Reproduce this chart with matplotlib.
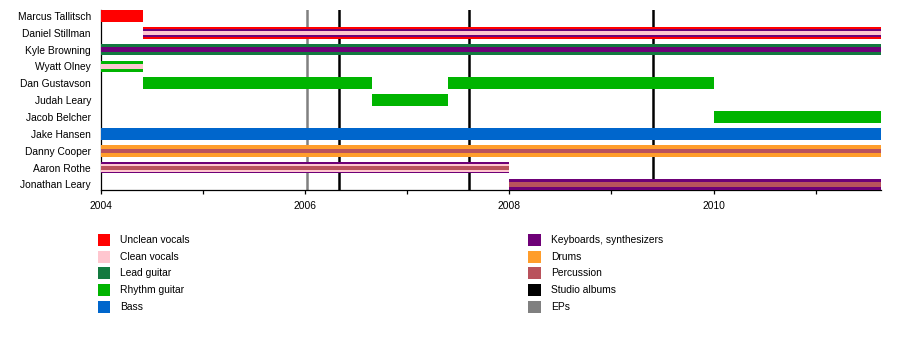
import matplotlib
matplotlib.use("Agg")
import matplotlib.pyplot as plt
from matplotlib.patches import Rectangle

plt.rcParams['font.family'] = ['Liberation Sans', 'DejaVu Sans']

# band members, top to bottom
members = ["Marcus Tallitsch", "Daniel Stillman", "Kyle Browning", "Wyatt Olney",
           "Dan Gustavson", "Judah Leary", "Jacob Belcher", "Jake Hansen",
           "Danny Cooper", "Aaron Rothe", "Jonathan Leary"]

# roles and their colours (legend order)
roles = ["Unclean vocals", "Clean vocals", "Lead guitar", "Rhythm guitar", "Bass",
         "Keyboards, synthesizers", "Drums", "Percussion", "Studio albums", "EPs"]
role_colors = ["#ff0000", "#ffc6cf", "#137a3f", "#00b400", "#0066cc",
               "#6e0077", "#ff9d2b", "#b9525c", "#000000", "#808080"]
color_of = dict(zip(roles, role_colors))

start_year = 2004.0
end_year = 2011.64

# stints: member, from, to, roles (outer bar first)
stint_member = ["Marcus Tallitsch", "Daniel Stillman", "Kyle Browning", "Wyatt Olney",
                "Dan Gustavson", "Dan Gustavson", "Judah Leary", "Jacob Belcher",
                "Jake Hansen", "Danny Cooper", "Aaron Rothe", "Jonathan Leary"]
stint_start = [2004.0, 2004.41, 2004.0, 2004.0, 2004.41, 2007.40, 2006.66, 2010.0,
               2004.0, 2004.0, 2004.0, 2008.0]
stint_end = [2004.41, end_year, end_year, 2004.41, 2006.66, 2010.0, 2007.40, end_year,
             end_year, end_year, 2008.0, end_year]
stint_roles = [["Unclean vocals"],
               ["Unclean vocals", "Keyboards, synthesizers", "Clean vocals"],
               ["Lead guitar", "Keyboards, synthesizers"],
               ["Rhythm guitar", "Clean vocals"],
               ["Rhythm guitar"], ["Rhythm guitar"], ["Rhythm guitar"], ["Rhythm guitar"],
               ["Bass"],
               ["Drums", "Percussion"],
               ["Keyboards, synthesizers", "Clean vocals", "Percussion"],
               ["Keyboards, synthesizers", "Percussion"]]

studio_albums = [2006.33, 2007.61, 2009.41]
eps = [2006.02]

# bar thickness by number of stacked roles
thickness = {1: [0.69], 2: [0.69, 0.25], 3: [0.69, 0.48, 0.24]}

fig = plt.figure(figsize=(9, 3.55), dpi=100)
ax = fig.add_axes([0.1119, 0.4639, 0.9789 - 0.1119, 0.9718 - 0.4639])

for m, s, e, rl in zip(stint_member, stint_start, stint_end, stint_roles):
    y = members.index(m)
    for r, h in zip(rl, thickness[len(rl)]):
        ax.barh(y, e - s, left=s, height=h, color=color_of[r], lw=0, zorder=3)

for x in eps:
    ax.axvline(x, color=color_of["EPs"], lw=1.8, zorder=2)
for x in studio_albums:
    ax.axvline(x, color=color_of["Studio albums"], lw=1.8, zorder=2)

ax.set_xlim(start_year, end_year)
ax.set_ylim(len(members) - 1 + 0.345, -0.345)
ax.set_yticks(range(len(members)))
ax.set_yticklabels(members, fontsize=7.4)
ax.tick_params(axis='y', length=0, pad=7)
ax.set_xticks([2004, 2006, 2008, 2010])
ax.set_xticklabels(["2004", "2006", "2008", "2010"], fontsize=7.4)
ax.set_xticks([2005, 2007, 2009, 2011], minor=True)
ax.tick_params(axis='x', which='both', length=3, width=0.9, direction='out', pad=5)
for side in ['top', 'right']:
    ax.spines[side].set_visible(False)
ax.spines['left'].set_linewidth(0.9)
ax.spines['bottom'].set_linewidth(0.9)

# legend, two columns drawn by hand
for i, (r, c) in enumerate(zip(roles, role_colors)):
    col, row = divmod(i, 5)
    x0 = 97.5 if col == 0 else 528
    yc = 239.8 + row * 16.7
    fig.add_artist(Rectangle((x0 / 900, 1 - (yc + 6) / 355), 12.5 / 900, 12 / 355,
                             transform=fig.transFigure, color=c, lw=0))
    fig.text((x0 + 23) / 900, 1 - yc / 355, r, fontsize=7.4, va='center', ha='left')

fig.savefig("out.png", dpi=100)
